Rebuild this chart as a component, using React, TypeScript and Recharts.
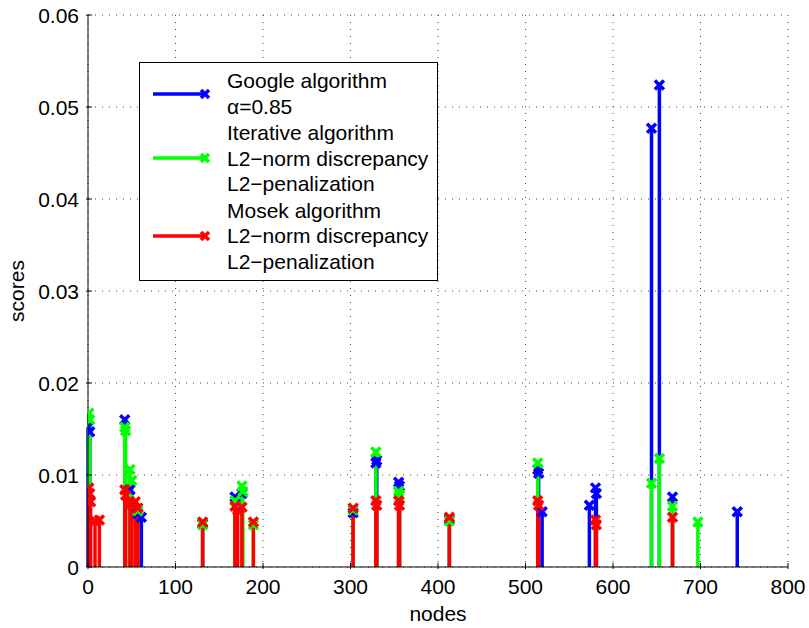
import React from "react";
import { ComposedChart, Scatter, ErrorBar, XAxis, YAxis, CartesianGrid, Legend } from "recharts";

// node indices and scores per algorithm
const googleNodes = [0, 2, 42, 48, 57, 61, 131, 168, 176, 303, 329, 330, 355, 356, 413, 514, 515, 519, 573, 580, 581, 644, 653, 668, 742];
const googleScores = [0.0152, 0.0147, 0.016, 0.0084, 0.0058, 0.0054, 0.0047, 0.0076, 0.008, 0.0059, 0.0113, 0.0116, 0.0092, 0.0088, 0.0052, 0.0106, 0.0102, 0.006, 0.0067, 0.0086, 0.008, 0.0477, 0.0524, 0.0076, 0.006];

const iterativeNodes = [1, 2, 42, 43, 48, 50, 57, 131, 168, 176, 177, 189, 303, 329, 355, 356, 413, 514, 644, 653, 668, 697];
const iterativeScores = [0.0167, 0.016, 0.0152, 0.0148, 0.0106, 0.0094, 0.0061, 0.0046, 0.0072, 0.0088, 0.0082, 0.0046, 0.0062, 0.0125, 0.0082, 0.0078, 0.005, 0.0113, 0.0091, 0.0118, 0.0066, 0.0049];

const mosekNodes = [1, 2, 3, 8, 13, 42, 43, 48, 50, 54, 57, 131, 168, 171, 176, 189, 303, 329, 330, 355, 356, 413, 514, 515, 580, 581, 668];
const mosekScores = [0.0086, 0.008, 0.0071, 0.005, 0.0051, 0.0084, 0.0078, 0.0071, 0.0068, 0.0071, 0.0064, 0.0049, 0.0066, 0.0062, 0.0065, 0.0049, 0.0064, 0.0072, 0.0067, 0.0072, 0.0067, 0.0054, 0.0072, 0.0067, 0.0051, 0.0046, 0.0054];

const xTicks = [0, 100, 200, 300, 400, 500, 600, 700, 800];
const yTicks = [0, 0.01, 0.02, 0.03, 0.04, 0.05, 0.06];

const FONT = "'Liberation Sans', Arial, Helvetica, sans-serif";
const FS = 21;

const toRows = (nodes: number[], scores: number[]) =>
  nodes.map((n, i) => ({ node: n, score: scores[i], err: [scores[i], 0] }));

const series = [
  { name: "google", color: "#0000ff", rows: toRows(googleNodes, googleScores), label: ["Google algorithm", "\u03b1=0.85"] },
  { name: "iterative", color: "#00ff00", rows: toRows(iterativeNodes, iterativeScores), label: ["Iterative algorithm", "L2\u2212norm discrepancy", "L2\u2212penalization"] },
  { name: "mosek", color: "#ff0000", rows: toRows(mosekNodes, mosekScores), label: ["Mosek algorithm", "L2\u2212norm discrepancy", "L2\u2212penalization"] },
];

const cross = (color: string) => (props: any) => {
  const { cx, cy } = props;
  const s = 4.5;
  return (
    <path
      d={`M${cx - s},${cy - s}L${cx + s},${cy + s}M${cx + s},${cy - s}L${cx - s},${cy + s}`}
      stroke={color}
      strokeWidth={3.5}
      fill="none"
    />
  );
};

const XTick = (props: any) => {
  const { x, y, payload } = props;
  return (
    <g>
      <line x1={x} y1={y} x2={x} y2={y - 6} stroke="#000" />
      <text x={x} y={y + 25} textAnchor="middle" fontFamily={FONT} fontSize={FS} fill="#000">
        {payload.value}
      </text>
    </g>
  );
};

const YTick = (props: any) => {
  const { x, y, payload } = props;
  return (
    <g>
      <line x1={x} y1={y} x2={x + 6} y2={y} stroke="#000" />
      <text x={x - 7} y={y + 7.5} textAnchor="end" fontFamily={FONT} fontSize={FS} fill="#000">
        {payload.value === 0 ? "0" : payload.value.toFixed(2)}
      </text>
    </g>
  );
};

const LegendBox = () => (
  <div
    style={{
      width: 299,
      border: "1px solid #000",
      background: "#fff",
      fontFamily: FONT,
      fontSize: FS,
      lineHeight: "25.5px",
      padding: "5px 0 5px 0",
      boxSizing: "border-box",
    }}
  >
    {series.map((s) => (
      <div key={s.name} style={{ display: "flex", alignItems: "center", marginBottom: 1 }}>
        <svg width={87} height={20} style={{ flex: "none" }}>
          <line x1={13} y1={10} x2={64} y2={10} stroke={s.color} strokeWidth={3.5} />
          <path d="M61,6L69,14M69,6L61,14" stroke={s.color} strokeWidth={3.5} />
        </svg>
        <div style={{ color: "#000" }}>
          {s.label.map((l) => (
            <div key={l}>{l}</div>
          ))}
        </div>
      </div>
    ))}
  </div>
);

export default function App() {
  return (
    <div style={{ position: "absolute", left: 0, top: 0, width: 809, height: 628, background: "#fff" }}>
      <ComposedChart width={809} height={628} margin={{ top: 15, right: 21, bottom: 0, left: 0 }}>
        <CartesianGrid stroke="#444" strokeDasharray="1 6" />
        <XAxis
          type="number"
          dataKey="node"
          domain={[0, 800]}
          ticks={xTicks}
          allowDataOverflow
          height={61}
          stroke="#000"
          tickLine={false}
          tickSize={0}
          tick={<XTick />}
          label={{ value: "nodes", position: "insideBottom", offset: 7, fontFamily: FONT, fontSize: FS, fill: "#000" }}
        />
        <YAxis
          type="number"
          dataKey="score"
          domain={[0, 0.06]}
          ticks={yTicks}
          allowDataOverflow
          width={88}
          stroke="#000"
          tickLine={false}
          tickSize={0}
          tick={<YTick />}
          label={{ value: "scores", angle: -90, position: "insideLeft", offset: 17, fontFamily: FONT, fontSize: FS, fill: "#000", style: { textAnchor: "middle" } }}
        />
        {series.map((s) => (
          <Scatter key={s.name} name={s.name} data={s.rows} fill={s.color} shape={cross(s.color)} isAnimationActive={false}>
            <ErrorBar dataKey="err" direction="y" width={0} stroke={s.color} strokeWidth={3.5} isAnimationActive={false} />
          </Scatter>
        ))}
        <Legend
          layout="horizontal"
          verticalAlign="middle"
          align="center"
          content={<LegendBox />}
          wrapperStyle={{ left: 139, top: 62, width: 299 }}
        />
      </ComposedChart>
    </div>
  );
}
